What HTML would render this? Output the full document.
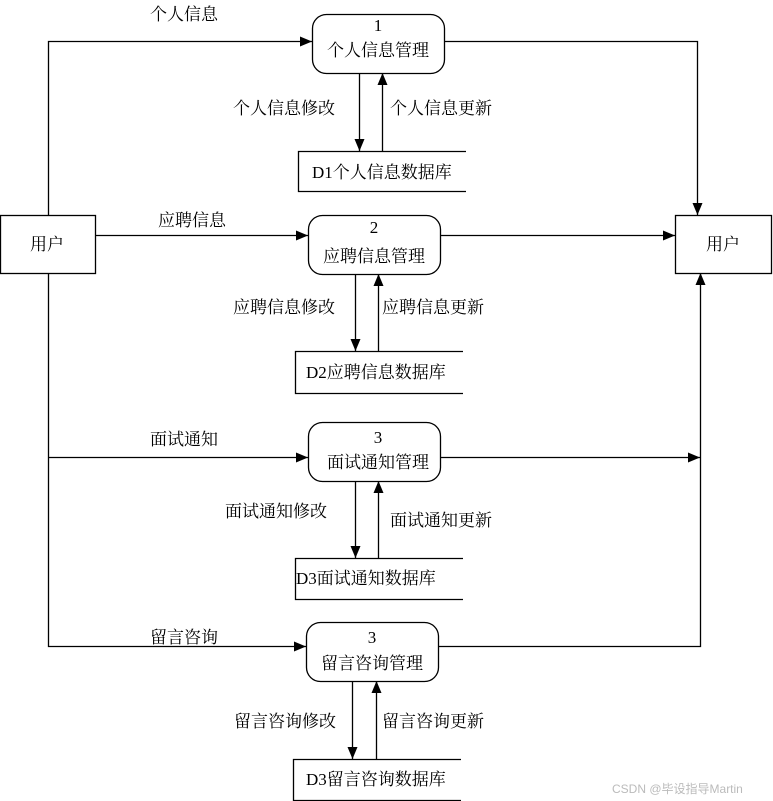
<!DOCTYPE html>
<html><head><meta charset="utf-8"><style>body{margin:0;background:#fff}svg{display:block}text{font-family:"Liberation Serif","Noto Serif CJK SC",serif;font-size:17px;fill:#000}</style></head><body>
<svg width="773" height="801" viewBox="0 0 773 801" xmlns="http://www.w3.org/2000/svg">
<defs><marker id="a" markerWidth="12" markerHeight="10" refX="12" refY="5" orient="auto" markerUnits="userSpaceOnUse"><path d="M0,0 L12,5 L0,10 z" fill="#000"/></marker></defs>
<g stroke="#000" stroke-width="1.3" fill="none">
<rect x="0.5" y="215.5" width="95" height="58"/>
<rect x="675.5" y="215.5" width="96" height="58"/>
<rect x="312.5" y="14.5" width="132" height="59" rx="14"/>
<rect x="308.5" y="215.5" width="132" height="59" rx="14"/>
<rect x="308.5" y="422.5" width="132" height="59" rx="14"/>
<rect x="306.5" y="622.5" width="132" height="59" rx="14"/>
<path d="M466,151.5 H298.5 V191.5 H466"/>
<path d="M463,351.5 H295.5 V393.5 H463"/>
<path d="M463,558.5 H295.5 V599.5 H463"/>
<path d="M461,759.5 H293.5 V800.5 H461"/>
<path d="M48.5,215 V41.5 H312" marker-end="url(#a)"/>
<path d="M444,41.5 H697.5 V215" marker-end="url(#a)"/>
<path d="M95,235.5 H308" marker-end="url(#a)"/>
<path d="M440,235.5 H675" marker-end="url(#a)"/>
<path d="M48.5,273 V646.5 H306" marker-end="url(#a)"/>
<path d="M48.5,457.5 H308" marker-end="url(#a)"/>
<path d="M440,457.5 H700" marker-end="url(#a)"/>
<path d="M438,646.5 H700.5 V273" marker-end="url(#a)"/>
<path d="M359.5,73 V151" marker-end="url(#a)"/><path d="M382.5,151 V73" marker-end="url(#a)"/>
<path d="M355.5,274 V351" marker-end="url(#a)"/><path d="M378.5,351 V274" marker-end="url(#a)"/>
<path d="M355.5,481 V558" marker-end="url(#a)"/><path d="M378.5,558 V481" marker-end="url(#a)"/>
<path d="M352.5,681 V759" marker-end="url(#a)"/><path d="M376.5,759 V681" marker-end="url(#a)"/>
</g>
<g text-anchor="middle">
<text x="378" y="31">1</text><text x="378" y="56">个人信息管理</text>
<text x="374" y="233">2</text><text x="374" y="262">应聘信息管理</text>
<text x="378" y="443">3</text><text x="378" y="468">面试通知管理</text>
<text x="372" y="643">3</text><text x="372" y="669">留言咨询管理</text>
<text x="47" y="250">用户</text><text x="723" y="250">用户</text>
</g>
<text x="150" y="20">个人信息</text>
<text x="158" y="226">应聘信息</text>
<text x="150" y="445">面试通知</text>
<text x="150" y="643">留言咨询</text>
<text x="233" y="114">个人信息修改</text><text x="390" y="114">个人信息更新</text>
<text x="233" y="313">应聘信息修改</text><text x="382" y="313">应聘信息更新</text>
<text x="225" y="517">面试通知修改</text><text x="390" y="526">面试通知更新</text>
<text x="234" y="727">留言咨询修改</text><text x="382" y="727">留言咨询更新</text>
<text x="312" y="178">D1个人信息数据库</text>
<text x="306" y="378">D2应聘信息数据库</text>
<text x="296" y="584">D3面试通知数据库</text>
<text x="306" y="785">D3留言咨询数据库</text>
<text x="612" y="793" style="font-family:'Liberation Sans','Noto Sans CJK SC',sans-serif;font-size:12px;fill:#bbb">CSDN @毕设指导Martin</text>
</svg>
</body></html>
